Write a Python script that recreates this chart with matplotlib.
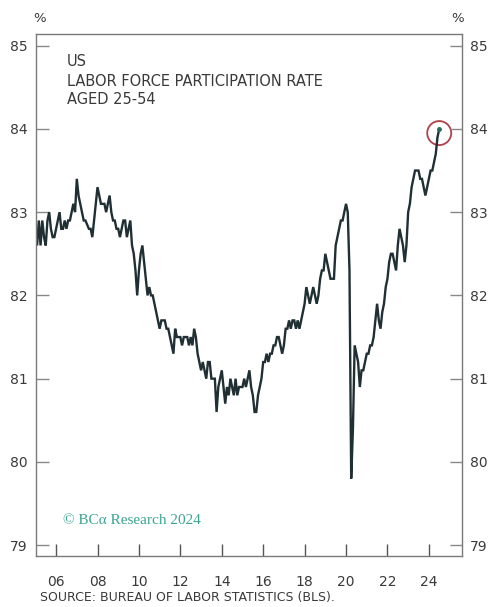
import numpy as np
import matplotlib
matplotlib.use("Agg")
import matplotlib.pyplot as plt
from matplotlib.patches import Ellipse

# Monthly prime-age (25-54) labor force participation rate, %, Jan 2005 - Jul 2024
start_year = 2005
lfpr = [
    # 2005
    82.8, 82.6, 82.9, 82.6, 82.9, 82.7, 82.6, 82.9, 83.0, 82.8, 82.7, 82.7,
    # 2006
    82.8, 82.9, 83.0, 82.8, 82.8, 82.9, 82.8, 82.9, 82.9, 83.0, 83.1, 83.0,
    # 2007
    83.4, 83.2, 83.1, 83.0, 82.9, 82.9, 82.85, 82.8, 82.8, 82.7, 82.9, 83.1,
    # 2008
    83.3, 83.2, 83.1, 83.1, 83.1, 83.0, 83.1, 83.2, 83.0, 82.9, 82.9, 82.8,
    # 2009
    82.8, 82.7, 82.8, 82.9, 82.9, 82.7, 82.8, 82.9, 82.6, 82.5, 82.3, 82.0,
    # 2010
    82.3, 82.5, 82.6, 82.4, 82.2, 82.0, 82.1, 82.0, 82.0, 81.9, 81.8, 81.7,
    # 2011
    81.6, 81.7, 81.7, 81.7, 81.6, 81.6, 81.5, 81.4, 81.3, 81.6, 81.5, 81.5,
    # 2012
    81.5, 81.4, 81.5, 81.5, 81.5, 81.4, 81.5, 81.4, 81.6, 81.5, 81.3, 81.2,
    # 2013
    81.1, 81.2, 81.1, 81.0, 81.2, 81.2, 81.0, 81.0, 81.0, 80.6, 80.9, 81.0,
    # 2014
    81.1, 80.9, 80.7, 80.9, 80.8, 81.0, 80.9, 80.8, 81.0, 80.8, 80.9, 80.9,
    # 2015
    80.9, 81.0, 80.9, 81.0, 81.1, 80.9, 80.8, 80.6, 80.6, 80.8, 80.9, 81.0,
    # 2016
    81.2, 81.2, 81.3, 81.2, 81.3, 81.3, 81.4, 81.4, 81.5, 81.5, 81.4, 81.3,
    # 2017
    81.4, 81.6, 81.6, 81.7, 81.6, 81.7, 81.7, 81.6, 81.7, 81.6, 81.7, 81.8,
    # 2018
    81.9, 82.1, 82.0, 81.9, 82.0, 82.1, 82.0, 81.9, 82.0, 82.2, 82.3, 82.3,
    # 2019
    82.5, 82.4, 82.3, 82.2, 82.2, 82.2, 82.6, 82.7, 82.8, 82.9, 82.9, 83.0,
    # 2020
    83.1, 83.0, 82.3, 79.8, 80.4, 81.4, 81.3, 81.2, 80.9, 81.1, 81.1, 81.2,
    # 2021
    81.3, 81.3, 81.4, 81.4, 81.5, 81.7, 81.9, 81.7, 81.6, 81.8, 81.9, 82.1,
    # 2022
    82.2, 82.4, 82.5, 82.5, 82.4, 82.3, 82.6, 82.8, 82.7, 82.6, 82.4, 82.6,
    # 2023
    83.0, 83.1, 83.3, 83.4, 83.5, 83.5, 83.5, 83.4, 83.4, 83.3, 83.2, 83.3,
    # 2024
    83.4, 83.5, 83.5, 83.6, 83.7, 83.9, 84.0,
]

x_ticks = [2006, 2008, 2010, 2012, 2014, 2016, 2018, 2020, 2022, 2024]
x_labels = ["06", "08", "10", "12", "14", "16", "18", "20", "22", "24"]
y_ticks = [79, 80, 81, 82, 83, 84, 85]
y_labels = ["79", "80", "81", "82", "83", "84", "85"]

t = np.array([start_year + i / 12.0 for i in range(len(lfpr))])
v = np.array(lfpr)

fig = plt.figure(figsize=(4.88, 6.07), dpi=100)
ax = fig.add_axes([36 / 488, 1 - 556 / 607, 426 / 488, 522 / 607])

line_color = "#1f2f33"
text_color = "#3a3a3a"

ax.plot(t, v, color=line_color, lw=1.7, solid_joinstyle="miter")

xmin, xmax = 2005.03, 2025.6
ymin, ymax = 78.87, 85.14
ax.set_xlim(xmin, xmax)
ax.set_ylim(ymin, ymax)

ax.set_xticks(x_ticks)
ax.set_xticklabels(x_labels)
ax.set_yticks(y_ticks)
ax.set_yticklabels(y_labels)

for s in ax.spines.values():
    s.set_color("#7a7a7a")
    s.set_linewidth(1.0)

ax.tick_params(axis="x", direction="in", length=9, width=1.0, color="#555555",
               labelsize=10, labelcolor=text_color, pad=14)
ax.tick_params(axis="y", direction="in", length=9, width=1.0, color="#888888",
               labelsize=10, labelcolor=text_color, pad=6,
               left=True, right=True, labelleft=True, labelright=True)

# Highlight last value
last_t, last_v = t[-1], v[-1]
ax.plot([last_t], [last_v], marker="o", ms=2.5, color="#2e6b5e")
r_px = 12
circ = Ellipse((last_t, last_v - 0.05),
               width=2 * r_px * (xmax - xmin) / 426,
               height=2 * r_px * (ymax - ymin) / 522,
               fill=False, edgecolor="#b0404a", lw=1.3)
ax.add_patch(circ)

# Percent markers above axes
fig.text(40 / 488, 1 - 18 / 607, "%", ha="center", va="center",
         fontsize=9.5, color=text_color)
fig.text(458 / 488, 1 - 18 / 607, "%", ha="center", va="center",
         fontsize=9.5, color=text_color)

# Titles inside plot
title_kw = dict(fontsize=10.5, color=text_color, ha="left", va="center",
                family="DejaVu Sans")
fig.text(67 / 488, 1 - 61 / 607, "US", **title_kw)
fig.text(67 / 488, 1 - 81 / 607, "LABOR FORCE PARTICIPATION RATE", **title_kw)
fig.text(67 / 488, 1 - 100 / 607, "AGED 25-54", **title_kw)

# Watermark
fig.text(63 / 488, 1 - 521 / 607, "© BCα Research 2024", ha="left", va="center",
         fontsize=11, color="#3aa592", family="Liberation Serif")

# Source
fig.text(40 / 488, 1 - 597 / 607, "SOURCE: BUREAU OF LABOR STATISTICS (BLS).",
         ha="left", va="center", fontsize=9, color=text_color)

fig.savefig("out.png", dpi=100)
